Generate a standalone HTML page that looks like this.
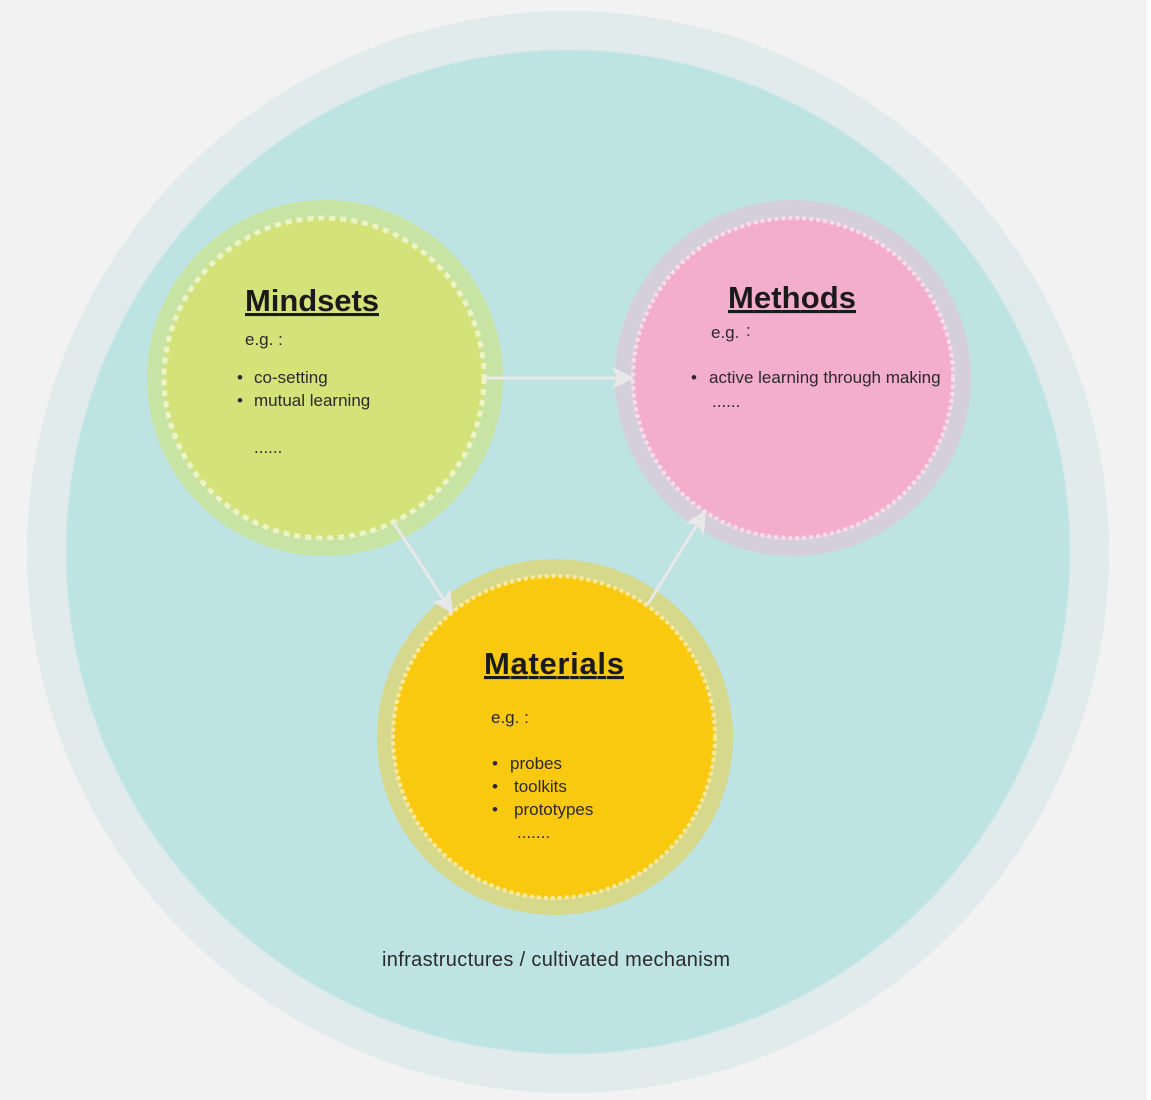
<!DOCTYPE html>
<html><head><meta charset="utf-8"><style>
html,body{margin:0;padding:0;background:#f2f2f2;}
svg{display:block}
text{font-family:"Liberation Sans","DejaVu Sans",sans-serif;fill:#2a2a2a}
.t{font-weight:bold;font-size:31px;fill:#1a1a1a;text-decoration:underline}
.s{font-size:17px}
</style></head><body>
<svg width="1151" height="1100" viewBox="0 0 1151 1100" xmlns="http://www.w3.org/2000/svg">
<rect width="1151" height="1100" fill="#f2f2f2"/>
<rect x="1147" y="0" width="4" height="1100" fill="#ffffff"/>
<circle cx="568" cy="552" r="541" fill="#e2ebeb"/>
<circle cx="568" cy="552" r="502" fill="#bde3e3" stroke="#d0e8e8" stroke-width="2" stroke-dasharray="2 2"/>
<defs>
<marker id="b" markerWidth="22" markerHeight="22" refX="20" refY="11" orient="auto" markerUnits="userSpaceOnUse" viewBox="0 0 22 22"><path d="M0,0 L22,11 L0,22 L5,11 z" fill="#e8e8e8"/></marker></defs>
<circle cx="325" cy="378" r="178" fill="#c8e4a4"/>
<circle cx="324" cy="378" r="160" fill="#d3e279" stroke="#eef3c4" stroke-width="5" stroke-dasharray="6 5"/>
<circle cx="793" cy="378" r="178" fill="#d5cfdb"/>
<circle cx="793" cy="378" r="160" fill="#f3aecc" stroke="#fbdbe8" stroke-width="4" stroke-dasharray="4 3"/>
<circle cx="555" cy="737" r="178" fill="#d6d98c"/>
<circle cx="554" cy="737" r="161" fill="#f9c90f" stroke="#fce99a" stroke-width="4" stroke-dasharray="4 3"/>
<line x1="485" y1="378" x2="632" y2="378" stroke="#e8e8e8" stroke-width="3" marker-end="url(#b)"/>
<line x1="393" y1="522" x2="452" y2="612" stroke="#e8e8e8" stroke-width="3" marker-end="url(#b)"/>
<line x1="648" y1="604" x2="705" y2="512" stroke="#e8e8e8" stroke-width="3" marker-end="url(#b)"/>
<text x="312" y="311" text-anchor="middle" class="t" textLength="134">Mindsets</text>
<text x="245" y="345" class="s">e.g. :</text>
<text x="237" y="383" class="s">•</text><text x="254" y="383" class="s">co-setting</text>
<text x="237" y="406" class="s">•</text><text x="254" y="406" class="s">mutual learning</text>
<text x="254" y="453" class="s">......</text>
<text x="792" y="308" text-anchor="middle" class="t" textLength="128">Methods</text>
<text x="711" y="338" class="s">e.g.</text><text x="746" y="336" class="s">:</text>
<text x="691" y="383" class="s">•</text><text x="709" y="383" class="s">active learning through making</text>
<text x="712" y="407" class="s">......</text>
<text x="554" y="674" text-anchor="middle" class="t" textLength="140">Materials</text>
<text x="491" y="723" class="s">e.g. :</text>
<text x="492" y="769" class="s">•</text><text x="510" y="769" class="s">probes</text>
<text x="492" y="792" class="s">•</text><text x="514" y="792" class="s">toolkits</text>
<text x="492" y="815" class="s">•</text><text x="514" y="815" class="s">prototypes</text>
<text x="517" y="838" class="s">.......</text>
<text x="556" y="966" text-anchor="middle" style="font-size:20px" textLength="348">infrastructures / cultivated mechanism</text>
</svg>
</body></html>
